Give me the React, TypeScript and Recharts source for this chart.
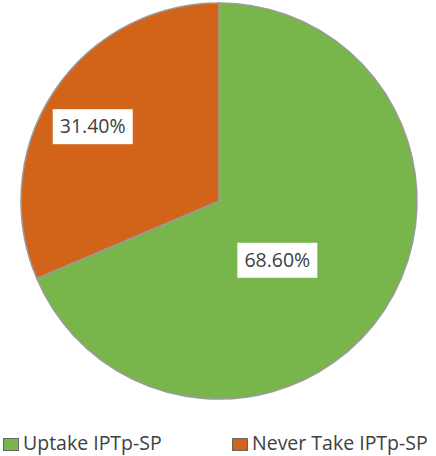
import React from 'react';
import { PieChart, Pie, Cell, Legend } from 'recharts';

const categories = ['Uptake IPTp-SP', 'Never Take IPTp-SP'];
const values = [68.6, 31.4];
const labels = ['68.60%', '31.40%'];
const colors = ['#78B54B', '#D2641A'];
const labelPlacement = [
  { r: 0.42, shift: -12 },
  { r: 0.74, shift: 3 },
];

const data = categories.map((name, i) => ({ name, value: values[i], label: labels[i] }));

const RAD = Math.PI / 180;

const renderLabel = (props: any) => {
  const { cx, cy, midAngle, outerRadius, index } = props;
  const p = labelPlacement[index];
  const a = (midAngle + p.shift) * RAD;
  const r = outerRadius * p.r;
  const x = cx + r * Math.cos(a);
  const y = cy - r * Math.sin(a);
  const w = 80;
  const h = 35;
  return (
    <g>
      <rect x={x - w / 2} y={y - h / 2} width={w} height={h} fill="#ffffff" />
      <text
        x={x}
        y={y + 1}
        textAnchor="middle"
        dominantBaseline="middle"
        fill="#404040"
        fontSize={19.5}
        fontFamily="'Open Sans', sans-serif"
      >
        {labels[index]}
      </text>
    </g>
  );
};

const renderLegend = () => {
  const lefts = [3, 232];
  return (
    <div style={{ position: 'relative', height: 20, width: 436 }}>
      {categories.map((name, i) => (
        <div
          key={name}
          style={{
            position: 'absolute',
            left: lefts[i],
            top: 0,
            display: 'flex',
            alignItems: 'center',
            fontFamily: "'Open Sans', sans-serif",
            fontSize: 19.5,
            color: '#404040',
            whiteSpace: 'nowrap',
            lineHeight: '20px',
            height: 20,
          }}
        >
          <span
            style={{
              display: 'inline-block',
              width: 14,
              height: 11,
              background: colors[i],
              border: '1px solid #666',
              marginRight: 4,
              marginTop: 3,
            }}
          />
          {name}
        </div>
      ))}
    </div>
  );
};

export default function App() {
  return (
    <div style={{ position: 'absolute', left: 0, top: 0, width: 436, height: 456, background: '#fff' }}>
      <PieChart width={436} height={456} margin={{ top: 0, right: 0, bottom: 0, left: 0 }}>
        <Pie
          data={data}
          dataKey="value"
          nameKey="name"
          cx={219}
          cy={201}
          outerRadius={198}
          startAngle={90}
          endAngle={-270}
          stroke="#9a9a9a"
          strokeWidth={1.5}
          label={renderLabel}
          labelLine={false}
          isAnimationActive={false}
        >
          {data.map((d, i) => (
            <Cell key={d.name} fill={colors[i]} />
          ))}
        </Pie>
        <Legend
          verticalAlign="bottom"
          content={renderLegend}
          wrapperStyle={{ left: 0, top: 433, width: 436 }}
        />
      </PieChart>
    </div>
  );
}
